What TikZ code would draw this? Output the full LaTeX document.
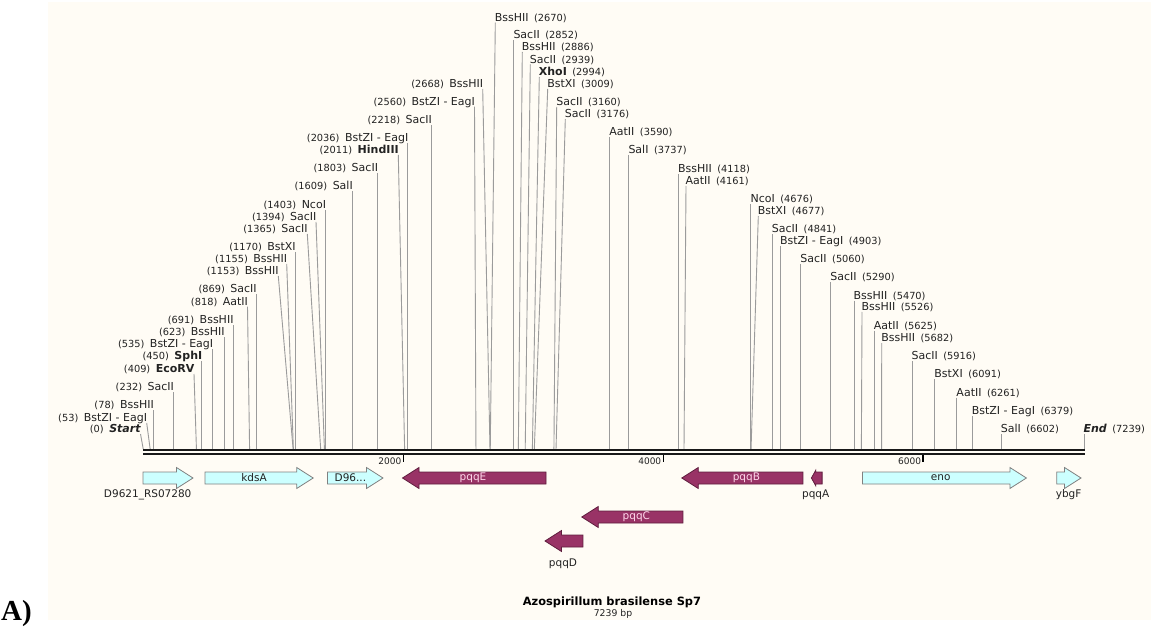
\documentclass[tikz,border=0pt]{standalone}
\usepackage{fontspec}
\setmainfont{DejaVu Sans}
\newfontfamily\serifA{Liberation Serif}
\definecolor{cream}{RGB}{255,252,245}
\definecolor{ink}{RGB}{34,34,34}
\definecolor{sitegray}{RGB}{155,155,155}
\definecolor{cyanfill}{RGB}{204,255,255}
\definecolor{cyanedge}{RGB}{128,128,128}
\definecolor{pqqfill}{RGB}{153,51,102}
\definecolor{pqqedge}{RGB}{95,30,62}
\definecolor{pqqtext}{RGB}{255,215,235}
\newcommand\numf{\fontsize{9.8}{10}\selectfont}
\newcommand\namef{\fontsize{11}{12}\selectfont}
\tikzset{
  siteline/.style={draw=sitegray, line width=0.9pt},
  sitelab/.style={inner sep=0pt, text=ink, font=\namef},
  ticklab/.style={inner sep=0pt, text=ink, font=\fontsize{9}{10}\selectfont, anchor=base east},
  tickline/.style={draw=black, line width=1.1pt},
  cyangene/.style={fill=cyanfill, draw=cyanedge, line width=0.8pt, line join=miter},
  pqqgene/.style={fill=pqqfill, draw=pqqedge, line width=0.8pt, line join=miter},
  inlab/.style={inner sep=0pt, text=ink, font=\fontsize{10.5}{12}\selectfont},
  pqqlab/.style={inner sep=0pt, text=pqqtext, font=\fontsize{10.5}{12}\selectfont},
  underlab/.style={inner sep=0pt, text=ink, font=\fontsize{10.5}{12}\selectfont}
}
\newcommand\siteL[5]{%
  \pgfmathsetmacro\sx{143.3+#2*0.129949}%
  \coordinate (b#1) at (\sx,449.3);%
  \coordinate (t#1) at (#3,#4);%
  \draw[siteline] (t#1) -- (b#1);%
  \node[sitelab,anchor=base east] (n#1) at ([xshift=0.6pt,yshift=1.4pt]t#1) {{\numf(#2)}\hspace{5.5pt}#5};%
}
\newcommand\siteR[5]{%
  \pgfmathsetmacro\sx{143.3+#2*0.129949}%
  \coordinate (b#1) at (\sx,449.3);%
  \coordinate (t#1) at (#3,#4);%
  \draw[siteline] (t#1) -- (b#1);%
  \node[sitelab,anchor=base west] (n#1) at ([xshift=-0.6pt,yshift=1.4pt]t#1) {#5\hspace{5.5pt}{\numf(#2)}};%
}
\newcommand\geneR[4]{%
  \draw[#4] (#1,#3-6) -- (#2-16.5,#3-6) -- (#2-16.5,#3-10.5) -- (#2,#3) -- (#2-16.5,#3+10.5) -- (#2-16.5,#3+6) -- (#1,#3+6) -- cycle;%
}
\newcommand\geneL[4]{%
  \draw[#4] (#2,#3-6) -- (#1+16.5,#3-6) -- (#1+16.5,#3-10.5) -- (#1,#3) -- (#1+16.5,#3+10.5) -- (#1+16.5,#3+6) -- (#2,#3+6) -- cycle;%
}
\begin{document}
\begin{tikzpicture}[x=1pt,y=-1pt]
\useasboundingbox (0,0) rectangle (1151,628);
\fill[white] (0,0) rectangle (1151,628);
\fill[cream] (48,2) rectangle (1151,620);
% left-side sites
\siteL{a0}{0}{140.5}{434}{\textbf{\textit{Start}}}
\siteL{a1}{53}{146.7}{423}{BstZI - EagI}
\siteL{a2}{78}{\sx}{410}{BssHII}
\siteL{a3}{232}{\sx}{392}{SacII}
\siteL{a4}{409}{194}{374}{\textbf{EcoRV}}
\siteL{a5}{450}{\sx}{361}{\textbf{SphI}}
\siteL{a6}{535}{\sx}{349}{BstZI - EagI}
\siteL{a7}{623}{\sx}{337}{BssHII}
\siteL{a8}{691}{\sx}{325}{BssHII}
\siteL{a9}{818}{247.5}{306.7}{AatII}
\siteL{a10}{869}{\sx}{294.3}{SacII}
\siteL{a11}{1153}{278.3}{276}{BssHII}
\siteL{a12}{1155}{286.7}{264}{BssHII}
\siteL{a13}{1170}{\sx}{252}{BstXI}
\siteL{a14}{1365}{307.3}{234}{SacII}
\siteL{a15}{1394}{316}{222}{SacII}
\siteL{a16}{1403}{\sx}{210}{NcoI}
\siteL{a17}{1609}{\sx}{191}{SalI}
\siteL{a18}{1803}{\sx}{173}{SacII}
\siteL{a19}{2011}{398.3}{155}{\textbf{HindIII}}
\siteL{a20}{2036}{\sx}{143}{BstZI - EagI}
\siteL{a21}{2218}{\sx}{125}{SacII}
\siteL{a22}{2560}{474.5}{106.7}{BstZI - EagI}
\siteL{a23}{2668}{482.7}{89}{BssHII}
% right-side sites
\siteR{b0}{2670}{495.3}{22.7}{BssHII}
\siteR{b1}{2852}{\sx}{40}{SacII}
\siteR{b2}{2886}{522.3}{52}{BssHII}
\siteR{b3}{2939}{530.3}{64.5}{SacII}
\siteR{b4}{2994}{539.3}{77}{\textbf{XhoI}}
\siteR{b5}{3009}{547.7}{89}{BstXI}
\siteR{b6}{3160}{556.7}{107}{SacII}
\siteR{b7}{3176}{565.3}{119}{SacII}
\siteR{b8}{3590}{\sx}{137}{AatII}
\siteR{b9}{3737}{\sx}{155}{SalI}
\siteR{b10}{4118}{\sx}{174}{BssHII}
\siteR{b11}{4161}{686}{186}{AatII}
\siteR{b12}{4676}{\sx}{204}{NcoI}
\siteR{b13}{4677}{758.3}{216}{BstXI}
\siteR{b14}{4841}{\sx}{234}{SacII}
\siteR{b15}{4903}{\sx}{246}{BstZI - EagI}
\siteR{b16}{5060}{\sx}{264}{SacII}
\siteR{b17}{5290}{\sx}{282}{SacII}
\siteR{b18}{5470}{\sx}{300.7}{BssHII}
\siteR{b19}{5526}{862}{312}{BssHII}
\siteR{b20}{5625}{\sx}{330.7}{AatII}
\siteR{b21}{5682}{881.7}{343}{BssHII}
\siteR{b22}{5916}{\sx}{361}{SacII}
\siteR{b23}{6091}{\sx}{379}{BstXI}
\siteR{b24}{6261}{\sx}{397.5}{AatII}
\siteR{b25}{6379}{\sx}{416}{BstZI - EagI}
\siteR{b26}{6602}{\sx}{434}{SalI}
\siteR{b27}{7239}{\sx}{434}{\textbf{\textit{End}}}
% backbone
\coordinate (mapL) at (143.3,450.3);
\coordinate (mapR) at (1084.5,450.3);
\coordinate (mapL2) at (143.3,453.7);
\coordinate (mapR2) at (1084.5,453.7);
\draw[line width=2pt, draw=black!90] (mapL) -- (mapR);
\draw[line width=2pt, draw=black!90] (mapL2) -- (mapR2);
% ticks
\coordinate (k2) at (403.2,454.5);
\coordinate (k4) at (663.1,454.5);
\coordinate (k6) at (923.0,454.5);
\coordinate (k2e) at (403.2,462);
\coordinate (k4e) at (663.1,462);
\coordinate (k6e) at (923.0,462);
\draw[tickline] (k2) -- (k2e);
\draw[tickline] (k4) -- (k4e);
\draw[tickline] (k6) -- (k6e);
\node[ticklab] (l2) at (401.5,464) {2000};
\node[ticklab] (l4) at (661.4,464) {4000};
\node[ticklab] (l6) at (921.3,464) {6000};
% genes row 1
\geneR{143}{193}{478}{cyangene}
\geneR{205}{313.2}{478}{cyangene}
\geneR{327.5}{383}{478}{cyangene}
\geneL{402.5}{546}{478}{pqqgene}
\geneL{681.8}{802.9}{478}{pqqgene}
\draw[pqqgene] (811.4,478) -- (815.6,470.5) -- (815.6,472) -- (822.1,472) -- (822.1,484) -- (815.6,484) -- (815.6,485.5) -- cycle;
\geneR{862.5}{1026.4}{478}{cyangene}
\geneR{1056.8}{1081}{478}{cyangene}
% genes row 2, 3
\geneL{581.8}{682.9}{517}{pqqgene}
\geneL{545}{582.9}{541}{pqqgene}
% gene labels
\node[underlab] (gD9621) at (147.7,495) {D9621\_RS07280};
\node[inlab] (gkdsA) at (254,478) {kdsA};
\node[inlab] (gD96) at (350.4,478) {D96...};
\node[pqqlab] (gpqqE) at (473,478) {pqqE};
\node[pqqlab] (gpqqB) at (746.4,478) {pqqB};
\node[underlab] (gpqqA) at (815.7,495) {pqqA};
\node[inlab] (geno) at (940.7,478) {eno};
\node[underlab] (gybgF) at (1068.6,495) {ybgF};
\node[pqqlab] (gpqqC) at (636.4,517) {pqqC};
\node[underlab] (gpqqD) at (563,564) {pqqD};
% title
\node[inner sep=0pt, text=black, font=\bfseries\fontsize{11.4}{13}\selectfont] (title) at (612,602) {Azospirillum brasilense Sp7};
\node[inner sep=0pt, text=ink, font=\fontsize{9.3}{11}\selectfont] (bp) at (613,614) {7239 bp};
\node[inner sep=0pt, anchor=base west, font=\serifA\bfseries\fontsize{29}{32}\selectfont] (panelA) at (1,620) {A)};
\end{tikzpicture}
\end{document}
